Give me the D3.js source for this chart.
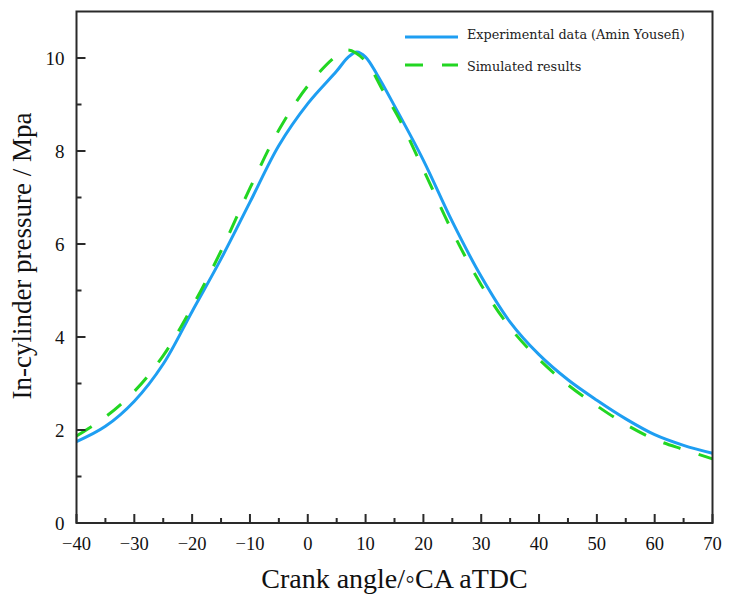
<!DOCTYPE html>
<html>
<head>
<meta charset="utf-8">
<script src="https://cdn.jsdelivr.net/npm/d3@7"></script>
<style>
    body { margin: 0; background: #fff; }
</style>
</head>
<body>
<div id="chart"></div>
<script>
// crank angle (°CA aTDC) and pressure (MPa)
const expAngle = [-40, -35, -30, -25, -20, -15, -10, -5, 0, 5, 7, 8.5, 10, 12, 15, 20, 25, 30, 35, 40, 45, 50, 55, 60, 65, 70];
const expPressure = [1.75, 2.08, 2.62, 3.42, 4.55, 5.68, 6.9, 8.12, 9.02, 9.72, 10.02, 10.13, 10.02, 9.64, 8.97, 7.8, 6.48, 5.3, 4.32, 3.62, 3.08, 2.64, 2.24, 1.9, 1.67, 1.5];

const simAngle = [-40, -35, -30, -25, -20, -15, -10, -5, 0, 5, 7, 10, 13, 16, 20, 25, 30, 35, 40, 45, 50, 55, 60, 65, 70];
const simPressure = [1.87, 2.28, 2.83, 3.6, 4.65, 5.85, 7.2, 8.45, 9.4, 10.05, 10.17, 9.93, 9.3, 8.65, 7.6, 6.27, 5.12, 4.2, 3.52, 2.97, 2.52, 2.12, 1.8, 1.58, 1.38];

const xTicks = [-40, -30, -20, -10, 0, 10, 20, 30, 40, 50, 60, 70];
const xMinor = [-35, -25, -15, -5, 5, 15, 25, 35, 45, 55, 65];
const yTicks = [0, 2, 4, 6, 8, 10];
const yMinor = [1, 3, 5, 7, 9];

const seriesNames = ["Experimental data (Amin Yousefi)", "Simulated results"];

const opt = {
    width: 733,
    height: 601,
    marginTop: 11.5,
    marginRight: 20.5,
    marginBottom: 78,
    marginLeft: 76.5,
    blue: "#1e9ef2",
    green: "#22d622",
    dash: "18,19",
    axisColor: "#2a2a2a",
    serif: "Liberation Serif, Times New Roman, serif"
};

const w = opt.width - opt.marginLeft - opt.marginRight,
    h = opt.height - opt.marginTop - opt.marginBottom;

const svg = d3.select("#chart").append("svg")
    .attr("width", opt.width)
    .attr("height", opt.height);

const g = svg.append("g")
    .attr("transform", `translate(${opt.marginLeft}, ${opt.marginTop})`);

const x = d3.scaleLinear().domain([-40, 70]).range([0, w]);
const y = d3.scaleLinear().domain([0, 11]).range([h, 0]);

const line = d3.line()
    .x(d => x(d[0]))
    .y(d => y(d[1]))
    .curve(d3.curveCatmullRom.alpha(0.5));

g.append("path")
    .datum(d3.zip(expAngle, expPressure))
    .attr("fill", "none")
    .attr("stroke", opt.blue)
    .attr("stroke-width", 3)
    .attr("d", line);

g.append("path")
    .datum(d3.zip(simAngle, simPressure))
    .attr("fill", "none")
    .attr("stroke", opt.green)
    .attr("stroke-width", 3)
    .attr("stroke-dasharray", opt.dash)
    .attr("d", line);

// ticks point inward: one path for all of them
const tickPath = d3.path();
xTicks.forEach(v => { tickPath.moveTo(x(v), h); tickPath.lineTo(x(v), h - 9); });
xMinor.forEach(v => { tickPath.moveTo(x(v), h); tickPath.lineTo(x(v), h - 5); });
yTicks.forEach(v => { tickPath.moveTo(0, y(v)); tickPath.lineTo(9, y(v)); });
yMinor.forEach(v => { tickPath.moveTo(0, y(v)); tickPath.lineTo(5, y(v)); });

g.append("path")
    .attr("d", tickPath.toString())
    .attr("fill", "none")
    .attr("stroke", opt.axisColor)
    .attr("stroke-width", 2);

g.append("g")
    .selectAll("text")
    .data(xTicks)
    .join("text")
    .attr("x", d => x(d))
    .attr("y", h + 27)
    .attr("text-anchor", "middle")
    .attr("font-family", opt.serif)
    .attr("font-size", 18.5)
    .attr("fill", "#111")
    .text(d => d < 0 ? "\u2212" + Math.abs(d) : d);

g.append("g")
    .selectAll("text")
    .data(yTicks)
    .join("text")
    .attr("x", -12)
    .attr("y", d => y(d))
    .attr("dy", "0.35em")
    .attr("text-anchor", "end")
    .attr("font-family", opt.serif)
    .attr("font-size", 19)
    .attr("fill", "#111")
    .text(d => d);

// frame
g.append("rect")
    .attr("width", w)
    .attr("height", h)
    .attr("fill", "none")
    .attr("stroke", opt.axisColor)
    .attr("stroke-width", 2);

// axis titles
svg.append("text")
    .attr("x", opt.marginLeft + w / 2)
    .attr("y", 588)
    .attr("text-anchor", "middle")
    .attr("font-family", opt.serif)
    .attr("font-size", 28)
    .attr("fill", "#111")
    .text("Crank angle/\u25e6CA aTDC");

svg.append("text")
    .attr("transform", "translate(31, 256) rotate(-90)")
    .attr("text-anchor", "middle")
    .attr("font-family", opt.serif)
    .attr("font-size", 27)
    .attr("fill", "#111")
    .text("In-cylinder pressure / Mpa");

// legend
const legendRows = [
    { name: seriesNames[0], color: opt.blue, dash: null, ly: 37, ty: 38.5 },
    { name: seriesNames[1], color: opt.green, dash: opt.dash, ly: 65, ty: 71 }
];
const legend = svg.append("g").attr("transform", "translate(405, 0)");
legendRows.forEach(r => {
    legend.append("line")
        .attr("x1", 0).attr("x2", 53)
        .attr("y1", r.ly).attr("y2", r.ly)
        .attr("stroke", r.color)
        .attr("stroke-width", 3)
        .attr("stroke-dasharray", r.dash);
    legend.append("text")
        .attr("x", 62)
        .attr("y", r.ty)
        .attr("font-family", "DejaVu Serif, serif")
        .attr("font-size", 12.8)
        .attr("fill", "#222")
        .text(r.name);
});
</script>
</body>
</html>
